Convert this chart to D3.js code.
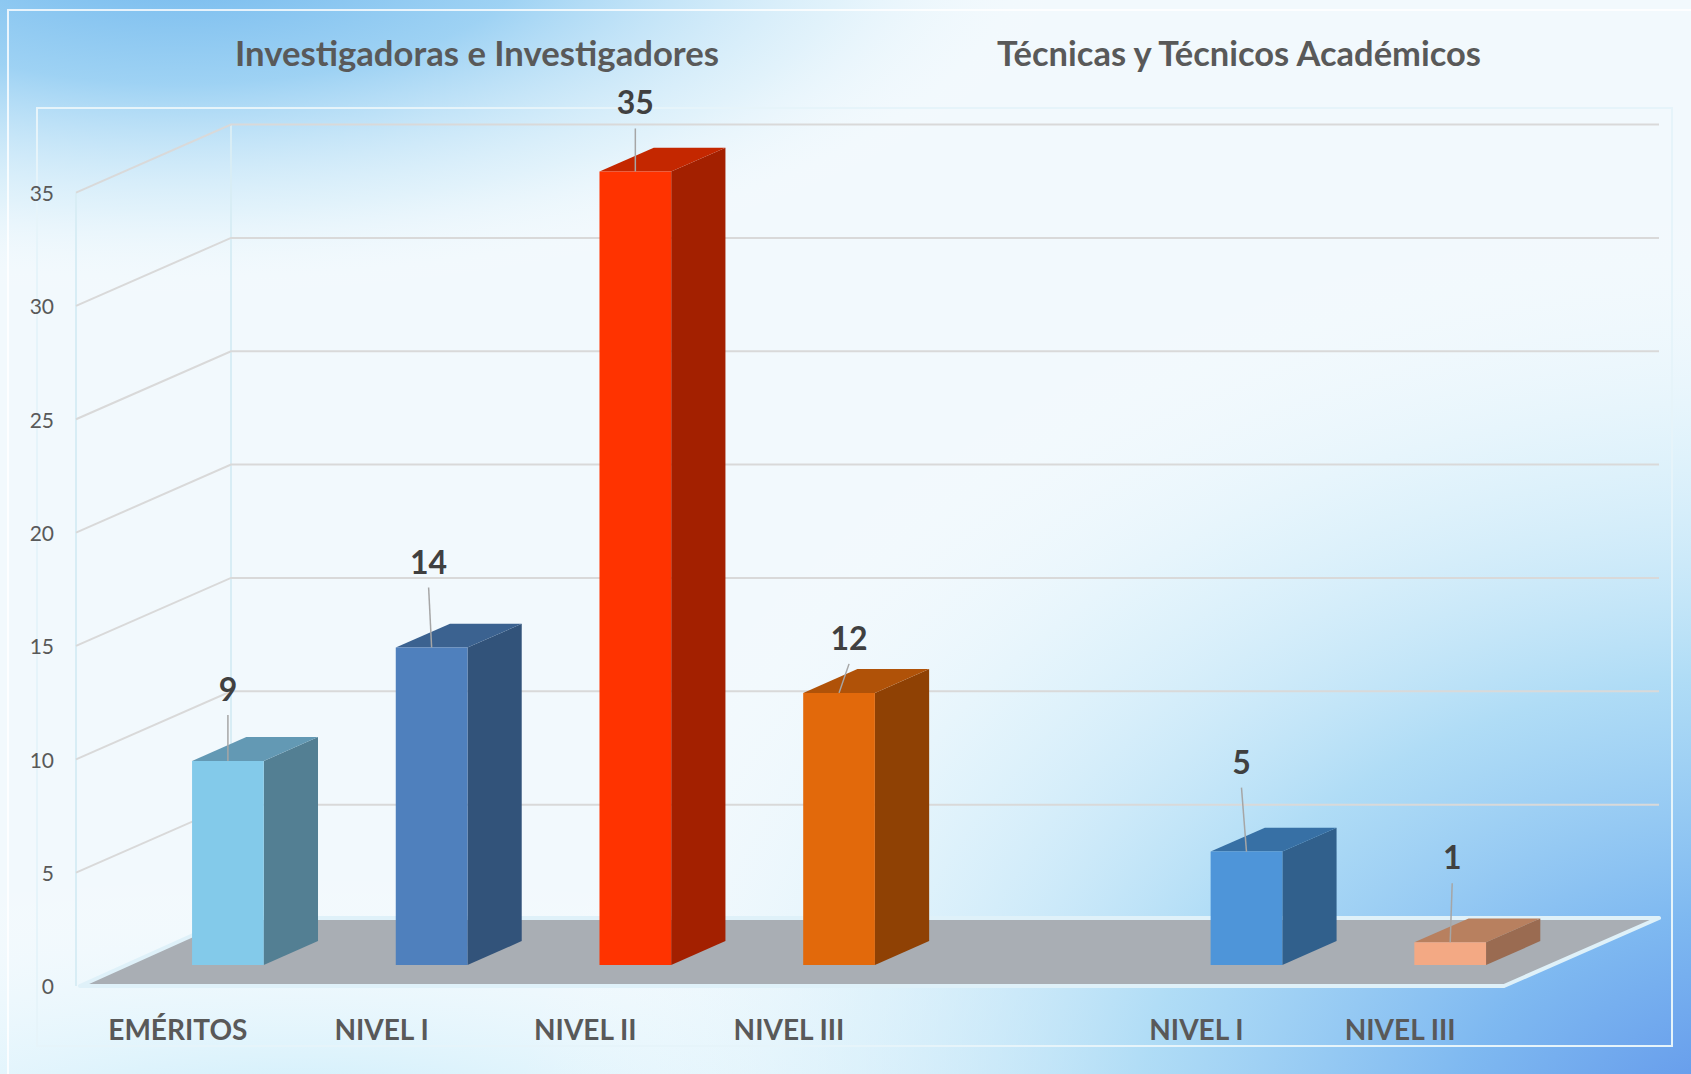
<!DOCTYPE html>
<html>
<head>
<meta charset="utf-8">
<script src="https://cdn.jsdelivr.net/npm/d3@7/dist/d3.min.js"></script>
<style>
  html, body { margin: 0; padding: 0; overflow: hidden; background: #f1f8fd; }
  text { font-family: Lato, "Open Sans", sans-serif; }
</style>
</head>
<body>
<div id="chart"></div>
<script>
// ---- data ----
const groupTitles = ["Investigadoras e Investigadores", "Técnicas y Técnicos Académicos"];
const categories = ["EMÉRITOS", "NIVEL I", "NIVEL II", "NIVEL III", "", "NIVEL I", "NIVEL III"];
const values = [9, 14, 35, 12, null, 5, 1];
const yTicks = [0, 5, 10, 15, 20, 25, 30, 35];

// ---- styles ----
const frontColors = ["#83caea", "#4f80bd", "#ff3300", "#e2690b", null, "#4e95d9", "#f3a984"];
const sideColors  = ["#537f93", "#32537a", "#a32000", "#8f4104", null, "#31608c", "#9a6b51"];
const topColors   = ["#6399b4", "#3b6290", "#c42700", "#b05208", null, "#3770a5", "#b8805f"];
// hand-placed data labels (dx, baseline dy from bar top)
const labelShift = [[0, -60], [-3, -74], [0, -57], [10, -43], null, [-5, -78], [2, -73]];

const W = 1691, H = 1074;
const DX = 155, DY = 68;        // full depth offset of the 3D box
const z0 = 0.31, z1 = 0.66;     // depth of the bars
const xL = 78, xR = 1504, xW = 76;

const svg = d3.select("#chart").append("svg")
  .attr("width", W)
  .attr("height", H);

const defs = svg.append("defs");
function radial(id, cx, cy, rx, ry, stops) {
  const g = defs.append("radialGradient")
    .attr("id", id)
    .attr("gradientUnits", "userSpaceOnUse")
    .attr("cx", 0).attr("cy", 0).attr("r", 1)
    .attr("gradientTransform", `translate(${cx},${cy}) scale(${rx},${ry})`);
  stops.forEach(s => g.append("stop")
    .attr("offset", s[0]).attr("stop-color", s[1]).attr("stop-opacity", s[2]));
}
radial("gTL", 180, -60, 900, 360, [[0, "#6ab3ec", 1], [0.4, "#8fcbf2", 0.85], [0.75, "#c8e8f8", 0.4], [1, "#ffffff", 0]]);
radial("gBR", 1760, 1150, 1250, 950, [[0, "#5a8ee9", 1], [0.25, "#78b5f0", 0.95], [0.5, "#9fd5f4", 0.8], [0.75, "#c9eaf9", 0.4], [1, "#ffffff", 0]]);
radial("gBL", 300, 1130, 950, 260, [[0, "#c2eafa", 0.95], [1, "#ffffff", 0]]);

svg.append("rect").attr("width", W).attr("height", H).attr("fill", "#f2f9fd");
["gBL", "gTL", "gBR"].forEach(id =>
  svg.append("rect").attr("width", W).attr("height", H).attr("fill", `url(#${id})`));

// frames
svg.append("path")
  .attr("d", `M8,${H + 5} V10 H${W + 5}`)
  .attr("fill", "none")
  .attr("stroke", "#ffffff")
  .attr("stroke-opacity", 0.8)
  .attr("stroke-width", 2);
svg.append("rect")
  .attr("x", 37).attr("y", 108)
  .attr("width", 1672 - 37).attr("height", 1046 - 108)
  .attr("fill", "none")
  .attr("stroke", "#e6f4fa")
  .attr("stroke-width", 2);

// scales
const x = d3.scaleBand()
  .domain(d3.range(categories.length))
  .range([xL, xR]);

const y = d3.scaleLinear()
  .domain([0, 35])
  .range([986, 986 - 35 * 22.67]);

const P = (px, v, z) => [px + z * DX, y(v) - z * DY];
const pts = arr => arr.map(p => p.join(",")).join(" ");

// walls
const g = svg.append("g");
g.append("line")
  .attr("x1", P(xW, 0, 0)[0]).attr("y1", P(xW, 0, 0)[1])
  .attr("x2", P(xW, 35, 0)[0]).attr("y2", P(xW, 35, 0)[1])
  .attr("stroke", "#d8edf5").attr("stroke-width", 2);
g.append("line")
  .attr("x1", P(xW, 0, 1)[0]).attr("y1", P(xW, 0, 1)[1])
  .attr("x2", P(xW, 35, 1)[0]).attr("y2", P(xW, 35, 1)[1])
  .attr("stroke", "#d8edf5").attr("stroke-width", 2);

// gridlines
yTicks.filter(v => v > 0).forEach(v => {
  const a = P(xW, v, 0), b = P(xW, v, 1), c = P(xR, v, 1);
  g.append("polyline")
    .attr("points", pts([a, b, c]))
    .attr("fill", "none")
    .attr("stroke", "#d9d9d9")
    .attr("stroke-width", 2);
});

// tick labels
g.selectAll(".tick")
  .data(yTicks)
  .enter()
  .append("text")
  .attr("class", "tick")
  .attr("x", 54)
  .attr("y", d => y(d) + 3)
  .attr("text-anchor", "end")
  .attr("dominant-baseline", "middle")
  .attr("font-size", 21)
  .attr("fill", "#595959")
  .text(d => d);

// floor
g.append("polygon")
  .attr("points", pts([P(xL + 2, 0, 0), P(xR, 0, 0), P(xR, 0, 1), P(xW, 0, 1)]))
  .attr("fill", "#a9aeb4")
  .attr("stroke", "#dff1f9")
  .attr("stroke-width", 4)
  .attr("stroke-linejoin", "round");

// bars
const bw = x.bandwidth() * 0.352;
const bars = values
  .map((v, i) => ({ v, i }))
  .filter(d => d.v != null)
  .map(d => {
    const x0 = x(d.i) + (x.bandwidth() - bw) / 2, x1 = x0 + bw;
    return { ...d, x0, x1 };
  });

const barG = g.selectAll(".bar").data(bars).enter().append("g").attr("class", "bar");
barG.append("polygon")
  .attr("points", d => pts([P(d.x1, 0, z0), P(d.x1, 0, z1), P(d.x1, d.v, z1), P(d.x1, d.v, z0)]))
  .attr("fill", d => sideColors[d.i]);
barG.append("polygon")
  .attr("points", d => pts([P(d.x0, d.v, z0), P(d.x1, d.v, z0), P(d.x1, d.v, z1), P(d.x0, d.v, z1)]))
  .attr("fill", d => topColors[d.i]);
barG.append("polygon")
  .attr("points", d => pts([P(d.x0, 0, z0), P(d.x1, 0, z0), P(d.x1, d.v, z0), P(d.x0, d.v, z0)]))
  .attr("fill", d => frontColors[d.i]);

// data labels + leader lines
bars.forEach(d => {
  const tp = P((d.x0 + d.x1) / 2, d.v, z0);
  const [sx, sy] = labelShift[d.i];
  const lx = tp[0] + sx, ly = tp[1] + sy;
  g.append("line")
    .attr("x1", lx).attr("y1", ly + 14)
    .attr("x2", tp[0]).attr("y2", tp[1])
    .attr("stroke", "#a6a6a6")
    .attr("stroke-width", 1.5);
  g.append("text")
    .attr("x", lx).attr("y", ly)
    .attr("text-anchor", "middle")
    .attr("font-size", 32)
    .attr("font-weight", 700)
    .attr("fill", "#404040")
    .text(d.v);
});

// category labels
g.selectAll(".cat")
  .data(categories)
  .enter()
  .append("text")
  .attr("class", "cat")
  .attr("x", (d, i) => x(i) + x.bandwidth() / 2 - 2)
  .attr("y", 1040)
  .attr("text-anchor", "middle")
  .attr("font-size", 28)
  .attr("font-weight", 700)
  .attr("fill", "#595959")
  .text(d => d);

// group titles
const titleX = [477, 1239];
svg.selectAll(".title")
  .data(groupTitles)
  .enter()
  .append("text")
  .attr("class", "title")
  .attr("x", (d, i) => titleX[i])
  .attr("y", 66)
  .attr("text-anchor", "middle")
  .attr("font-size", 34.5)
  .attr("font-weight", 700)
  .attr("fill", "#595959")
  .attr("textLength", 484)
  .attr("lengthAdjust", "spacingAndGlyphs")
  .text(d => d);
</script>
</body>
</html>
